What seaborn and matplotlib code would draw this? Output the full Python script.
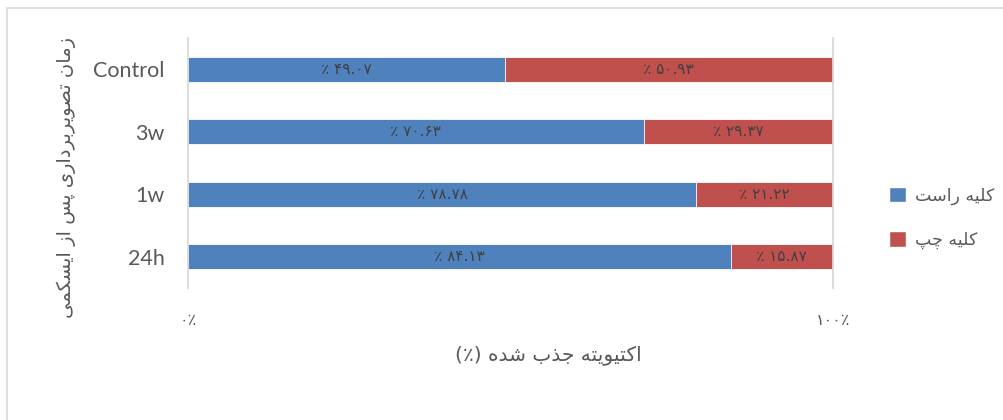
"""
Horizontal 100% stacked bar chart: kidney uptake activity by imaging time
after ischemia (right vs left kidney), Persian labels.
"""

import unicodedata

import matplotlib
matplotlib.use("Agg")
import matplotlib.pyplot as plt
from matplotlib.patches import Patch, Rectangle
import pandas as pd
import seaborn as sns

# Data
categories = ["Control", "3w", "1w", "24h"]
right_kidney = [49.07, 70.63, 78.78, 84.13]
left_kidney = [50.93, 29.37, 21.22, 15.87]

series_names = ["کلیه راست", "کلیه چپ"]
x_label = "اکتیویته جذب شده (٪)"
y_label = "زمان تصویربرداری پس از ایسکمی"
x_ticks = [0, 100]

BLUE = "#4F81BD"
RED = "#C0504D"
GRID = "#D9D9D9"
TEXT = "#595959"
LABEL = "#404040"

FA_DIGITS = str.maketrans("0123456789", "۰۱۲۳۴۵۶۷۸۹")
RIGHT_ONLY = set("اآأإدذرزژوؤة")


def is_letter(ch: str) -> bool:
    return "ARABIC LETTER" in unicodedata.name(ch, "")


def shape(text: str) -> str:
    """Poor man's Arabic shaping + RTL reordering for matplotlib."""
    out = []
    for i, ch in enumerate(text):
        if not is_letter(ch):
            out.append(ch)
            continue
        prev = text[i - 1] if i > 0 else ""
        nxt = text[i + 1] if i + 1 < len(text) else ""
        join_prev = bool(prev) and is_letter(prev) and prev not in RIGHT_ONLY
        join_next = ch not in RIGHT_ONLY and bool(nxt) and is_letter(nxt)
        form = {(True, True): "MEDIAL", (True, False): "FINAL",
                (False, True): "INITIAL", (False, False): "ISOLATED"}[(join_prev, join_next)]
        try:
            out.append(unicodedata.lookup(f"{unicodedata.name(ch)} {form} FORM"))
        except KeyError:
            out.append(ch)
    mirror = {"(": ")", ")": "("}
    return "".join(mirror.get(c, c) for c in reversed(out))


def fa_pct(v: float) -> str:
    return "٪ " + f"{v:.2f}".translate(FA_DIGITS)


df = pd.DataFrame({"time": categories, "right": right_kidney, "left": left_kidney})
df["total"] = df["right"] + df["left"]

sns.set_theme(style="white")
plt.rcParams["font.family"] = ["DejaVu Sans"]

fig = plt.figure(figsize=(10.04, 4.2), dpi=100)
W, H = 1004, 420
ax = fig.add_axes([188 / W, 1 - 288 / H, (833 - 188) / W, (288 - 38) / H])

# outer chart border
fig.patches.append(Rectangle((7 / W, -0.1), 1.2, 1 - 8 / H + 0.1, transform=fig.transFigure,
                             fill=False, edgecolor=GRID, linewidth=1.2))

sns.barplot(data=df, x="total", y="time", color=RED, width=0.4, orient="h",
            edgecolor="white", linewidth=0.6, ax=ax, saturation=1)
sns.barplot(data=df, x="right", y="time", color=BLUE, width=0.4, orient="h",
            edgecolor="white", linewidth=0.6, ax=ax, saturation=1)

for i, (r, l) in enumerate(zip(right_kidney, left_kidney)):
    ax.text(r / 2, i, fa_pct(r), ha="center", va="center", fontsize=11, color=LABEL)
    ax.text(r + l / 2, i, fa_pct(l), ha="center", va="center", fontsize=11, color=LABEL)

ax.set_xlim(0, 100)
ax.set_ylim(3.5, -0.5)
ax.set_xticks(x_ticks)
ax.set_xticklabels(["۰٪", "۱۰۰٪"], fontsize=11.5, color=TEXT)
ax.tick_params(axis="x", length=0, pad=18)
ax.tick_params(axis="y", length=0, pad=17)
for lab in ax.get_yticklabels():
    lab.set_fontfamily("Lato")
    lab.set_fontsize(15.5)
    lab.set_color(TEXT)
ax.set_xlabel("")
ax.set_ylabel("")
for side in ["top", "bottom"]:
    ax.spines[side].set_visible(False)
for side in ["left", "right"]:
    ax.spines[side].set_color(GRID)
    ax.spines[side].set_linewidth(1.3)

fig.text(548 / W, 1 - 355 / H, shape(x_label), ha="center", va="center",
         fontsize=14.5, color=TEXT)
fig.text(66 / W, 1 - 177 / H, shape(y_label), ha="center", va="center",
         rotation=90, fontsize=14, color=TEXT)

handles = [Patch(facecolor=BLUE), Patch(facecolor=RED)]
fig.legend(handles, [shape(s) for s in series_names], loc="center left",
           bbox_to_anchor=(873 / W, 1 - 218 / H), frameon=False, fontsize=12.5,
           labelcolor=TEXT, handlelength=1.0, handleheight=1.0, handletextpad=0.5,
           labelspacing=1.5)

fig.savefig("out.png", dpi=100)
